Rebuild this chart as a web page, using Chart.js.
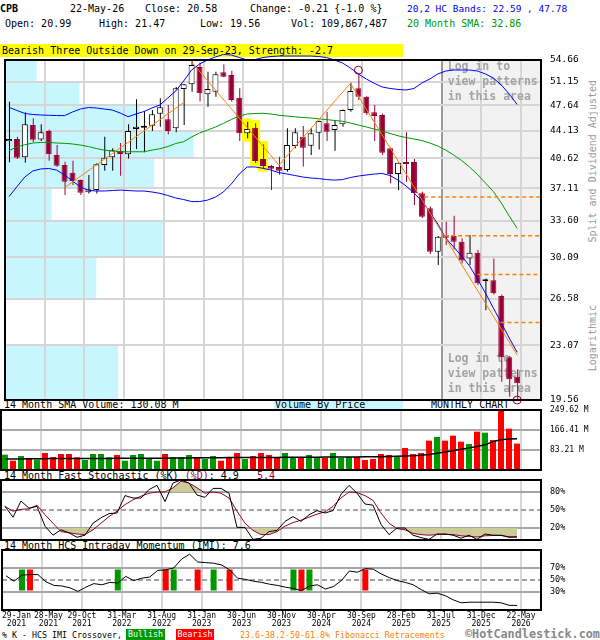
<!DOCTYPE html>
<html>
<head>
<meta charset="utf-8">
<script src="https://cdn.jsdelivr.net/npm/chart.js@4.4.0/dist/chart.umd.min.js"></script>
<style>
  body { margin: 0; background: #fff; }
  #wrap { position: relative; width: 600px; height: 640px; overflow: hidden;
          font-family: "DejaVu Sans Mono", monospace; font-size: 10px; color: #000; }
  canvas { position: absolute; left: 0; top: 0; }
  .t { position: absolute; white-space: pre; line-height: 12px; }
  .s { font-size: 8.3px; line-height: 10px; }
  .vert { writing-mode: vertical-rl; transform: rotate(180deg); color: #999; }
</style>
</head>
<body>
<div id="wrap">
  <div class="t" style="left:0;top:3px;font-weight:bold">CPB</div>
  <div class="t" style="left:70px;top:3px">22-May-26</div>
  <div class="t" style="left:145px;top:3px">Close: 20.58</div>
  <div class="t" style="left:250px;top:3px">Change: -0.21 {-1.0 %}</div>
  <div class="t" style="left:407px;top:3px;color:#0000ee;font-size:9.5px">20,2 HC Bands: 22.59 , 47.78</div>
  <div class="t" style="left:5px;top:18px">Open: 20.99</div>
  <div class="t" style="left:99px;top:18px">High: 21.47</div>
  <div class="t" style="left:200px;top:18px">Low: 19.56</div>
  <div class="t" style="left:291px;top:18px">Vol: 109,867,487</div>
  <div class="t" style="left:407px;top:18px;color:#009900">20 Month SMA: 32.86</div>
  <div class="t" style="left:0;top:44px;width:403px;height:13px;background:#ffff00;padding-left:2px;box-sizing:border-box;line-height:13px">Bearish Three Outside Down on 29-Sep-23, Strength: -2.7</div>

  <div class="t vert" style="left:587px;top:80px">Split and Dividend Adjusted</div>
  <div class="t vert" style="left:587px;top:305px">Logarithmic</div>

  <div class="t" style="left:4px;top:399px">14 Month SMA Volume: 130.08 M</div>
  <div class="t" style="left:274px;top:399px;width:129px;height:11px;background:#c8f6ff;line-height:11px;padding-left:1px;box-sizing:border-box">Volume By Price</div>
  <div class="t" style="left:431px;top:399px">MONTHLY CHART</div>
  <div class="t" style="left:4px;top:470px">14 Month Fast Stochastic (%K) <span style="color:#990033">(%D)</span>: 4.9   <span style="color:#990033">5.4</span></div>
  <div class="t" style="left:4px;top:540px">14 Month HCS Intraday Momentum (IMI): 7.6</div>

  <div class="t s" style="left:2px;top:630px">% K - HCS IMI Crossover,</div>
  <div class="t s" style="left:126px;top:629px;width:39px;height:11px;background:#009900;color:#fff;text-align:center;line-height:11px">Bullish</div>
  <div class="t s" style="left:176px;top:629px;width:38px;height:11px;background:#ff0000;color:#fff;text-align:center;line-height:11px">Bearish</div>
  <div class="t s" style="left:240px;top:630px;color:#ff8000">23.6-38.2-50-61.8% Fibonacci Retracements</div>
  <div class="t" style="left:465px;top:628px;color:#888;font-weight:bold;font-size:11.8px;line-height:13px">©HotCandlestick.com</div>

  <canvas id="cMain" width="600" height="640"></canvas>
  <canvas id="cVol" width="600" height="640"></canvas>
  <canvas id="cSto" width="600" height="640"></canvas>
  <canvas id="cImi" width="600" height="640"></canvas>
</div>
<script>
// monthly candles, Jan 2021 .. May 2026 (index 0..64)
const open = [42.76,43.05,40.73,44.91,43.00,44.10,41.02,39.79,38.88,38.03,
  36.64,36.90,39.79,40.73,41.51,41.10,44.37,44.55,44.82,46.47,
  45.69,44.47,50.07,50.79,53.51,49.28,49.66,52.67,52.24,48.77,
  43.80,44.55,40.52,39.68,39.56,39.19,42.15,43.35,42.19,43.88,
  45.14,44.23,45.01,46.99,50.18,48.92,46.67,46.30,41.86,38.73,
  40.08,40.16,36.53,34.92,30.62,32.21,32.11,31.56,30.01,30.53,
  28.00,28.10,26.78,22.25,20.99];
const high = [48.19,43.35,46.67,45.83,45.01,44.30,42.27,40.20,40.30,38.10,
  38.61,40.00,43.35,41.86,42.53,45.01,48.54,46.85,46.99,48.69,
  47.71,50.38,50.85,54.50,54.20,52.76,52.76,53.96,52.90,50.18,
  45.36,45.14,42.36,39.80,40.81,44.47,44.47,44.77,44.47,45.50,
  46.75,45.59,47.05,51.04,52.51,49.00,47.71,46.50,41.95,40.10,
  43.93,40.52,36.70,35.10,32.10,33.53,34.14,31.90,32.21,30.77,
  28.25,30.00,26.90,22.34,21.47];
const low = [40.12,40.52,40.07,42.62,42.80,40.32,39.60,36.35,37.47,36.35,
  36.51,36.50,39.12,39.12,38.53,40.60,41.77,41.37,44.10,44.67,
  43.66,43.93,44.91,49.66,48.20,47.46,48.92,51.90,48.19,42.80,
  43.14,40.05,39.40,36.90,38.64,38.99,41.86,39.63,41.02,41.72,
  42.80,41.55,44.67,46.75,48.43,46.30,42.80,41.02,37.66,36.89,
  37.84,35.26,33.90,30.40,29.41,31.25,30.85,29.55,29.41,27.69,
  25.66,26.90,20.67,19.76,19.56];
const close = [43.05,40.68,45.01,42.96,43.93,41.10,39.71,37.84,37.92,36.60,
  36.98,39.88,40.68,41.60,41.13,44.10,44.67,44.60,46.38,47.38,
  44.10,50.18,50.79,53.84,49.43,50.07,52.35,51.97,48.43,43.80,
  44.37,40.28,39.68,39.36,39.12,42.27,43.93,41.93,43.80,45.46,
  44.01,44.91,46.99,49.77,48.92,46.53,46.15,41.30,38.73,40.08,
  39.92,36.53,34.04,30.62,32.04,31.94,31.56,29.81,30.53,27.83,
  28.02,27.00,22.25,20.83,20.58];

const upperBand = [47.38,46.93,46.50,46.36,46.29,46.25,46.21,46.20,46.71,47.13,
  47.35,47.28,47.13,46.99,46.57,46.05,46.43,46.78,47.28,47.71,
  48.73,49.77,51.30,53.03,54.00,54.66,55.16,55.58,55.49,55.07,
  54.66,54.74,55.07,55.24,55.32,55.32,55.32,55.32,55.32,55.24,
  55.07,54.66,54.17,53.35,52.40,51.61,50.94,50.38,50.15,50.00,
  49.92,50.15,50.99,51.61,52.40,52.87,53.03,53.03,53.03,52.87,
  52.40,51.76,50.68,49.32,47.78];
const lowerBand = [36.16,37.27,38.38,39.08,39.32,39.38,39.19,38.61,37.92,37.24,
  36.86,36.79,36.79,36.84,36.89,36.84,36.79,36.79,36.68,36.53,
  36.29,36.02,35.85,35.63,35.63,35.79,36.12,36.68,37.58,38.73,
  39.56,39.56,39.40,39.19,38.89,38.73,38.55,38.38,38.26,38.20,
  38.08,38.02,38.08,38.32,38.49,38.61,38.73,38.79,38.55,38.02,
  37.36,36.57,35.68,34.53,33.29,31.92,31.06,30.23,29.33,28.19,
  27.03,25.83,24.69,23.59,22.59];
const sma20 = [41.56,42.03,42.31,42.53,42.60,42.61,42.53,42.49,42.41,42.27,
  42.08,41.83,41.63,41.51,41.42,41.42,41.42,41.42,41.63,41.80,
  42.08,42.47,42.70,43.31,43.84,44.23,44.64,45.12,45.66,46.15,
  46.43,46.50,46.53,46.43,46.25,46.15,46.04,45.94,45.87,45.76,
  45.65,45.53,45.42,45.18,44.91,44.64,44.37,44.10,43.77,43.47,
  43.24,43.05,42.85,42.53,42.15,41.63,41.02,40.34,39.56,38.67,
  37.69,36.73,35.48,34.11,32.86];

// trend lines (month index, price)
const trendAMonths = [7, 22];
const trendAPrices = [37.16, 48.04];
const trendBMonths = [23, 34, 43, 64];
const trendBPrices = [54.35, 39.79, 50.94, 22.41];
const fibLevels = [36.14, 32.14, 28.59, 24.73];
const fibFrom = [52.3, 54.8, 59.0, 61.9];
const pivotMonths = [44, 64];
const pivotPrices = [53.0, 19.56];
const patternMonths = [30, 31, 32];
const loginFrom = 54.5;

// volume by price, bands between price ticks (bottom to top), relative size
const priceTicks = [19.56, 23.07, 26.58, 30.09, 33.60, 37.11, 40.62, 44.13, 47.64, 51.15, 54.66];
const vbpVolume = [114, 0, 92, 159, 47, 150, 190, 136, 75, 32];

// volume, millions
const volume = [63.7,38.7,58.2,47.0,42.9,70.7,54.0,66.6,66.6,52.7,
  41.6,66.6,66.6,52.7,62.4,38.7,62.4,66.6,49.9,38.7,
  66.6,52.7,52.7,62.4,52.7,45.8,58.2,38.7,52.7,70.7,
  45.8,58.2,70.7,62.4,49.9,70.7,54.0,54.0,62.4,54.0,
  49.9,70.7,49.9,54.0,54.0,41.6,45.8,66.6,62.4,55.4,
  91.5,66.6,70.7,122.0,137.3,122.0,142.8,117.9,108.2,159.5,
  155.3,124.8,248.0,171.9,109.9];
const volSma = [45.8,46,46,46.5,47,47,47.5,48,48,48,
  48,48,48,48,48.5,48.5,48.5,48.5,49,49,
  49,49.5,50,50,50.5,51,51,51,51.5,52,
  52,52,52,52.5,52.5,53,53,53,53.5,53.5,
  54,54,54,54.5,54.5,55,55,55,56,57,
  58,59,61,64,70,75,80,86,92,98,
  105,118,126,129,130.08];
const volTicks = [83.21, 166.41, 249.62];

const stochK = [56,38,65,53,56,23,8,17,12,4.5,
  8,28,37,44,45,74,70,70,84,91,
  64,95,100,95,75,71,86,86,78,21,
  21,1,3,14,16,31,39,31,42,49,
  45,49,76,91,78,60,58,26,9,20,
  20,8,4,1,10,10,8,3,8,1,
  10,8,8,4.5,4.9];
const stochD = [56,48,51,52,58,42,28,14,12,10,
  9,17,28,39,48,59,67,73,78,80,
  80,87,98,95,87,78,80,78,70,48,
  28,16,9,9,14,23,29,33,38,43,
  47,56,70,80,79,74,66,45,28,19,
  17,11,9,8,9,9.5,9,7,6,5,
  7,7.5,7.5,5.5,5.4];
const stochTicks = [20, 50, 80];

const imi = [57,48,58,59,59,47,41,40,37,31,
  38,44,42,46,45,56,49,53,55,66,
  67,70,85,93,80,79,78,75,67,53,
  51,48,46,43,41,38,36,32,40,42,
  35,39,49,65,63,69,68,60,54,49,
  46,42,34,27,28,24,17,12,13,13,
  13,13,12,7.8,7.6];
const imiTicks = [30, 50, 70];
const bullishMonths = [2, 14, 21, 26, 36, 38];
const bearishMonths = [3, 20, 24, 28, 37, 45];
const signalRange = [32.5, 67.5];

const tickMonths = [0, 4, 9, 14, 19, 24, 29, 34, 39, 44, 49, 54, 59, 64];
const tickDates = ['29-Jan','28-May','29-Oct','31-Mar','31-Aug','31-Jan','30-Jun','30-Nov','30-Apr','30-Sep','28-Feb','31-Jul','31-Dec','22-May'];
const tickYears = ['2021','2021','2021','2022','2022','2023','2023','2023','2024','2024','2025','2025','2025','2026'];

// ---- styling
const MAROON = '#990033', ORANGE = '#ff8000', TAN = '#cccc99';
const MONO = '"DejaVu Sans Mono", monospace';
Chart.defaults.font.family = MONO;
Chart.defaults.animation = false;
Chart.defaults.events = [];
Chart.defaults.plugins.legend.display = false;
Chart.defaults.plugins.tooltip.enabled = false;

const X_MIN = -0.5, X_MAX = 67;
const idx = open.map((_, i) => i);
const isUp = i => close[i] >= open[i];
const isDoji = i => Math.abs(close[i] - open[i]) < 0.1;
const pts = (xs, ys) => xs.map((x, k) => ({ x: x, y: ys[k] }));
const series = arr => arr.map((v, i) => ({ x: i, y: v }));

// date labels sit on month ends, nudged right where they would overlap (one month = 8px)
const labelW = 29 / 8, labelGap = 3 / 8;
const labelPos = [];
tickMonths.forEach((m, k) => {
  const floor = k === 0 ? X_MIN + labelW / 2 : labelPos[k - 1] + labelW + labelGap;
  labelPos.push(Math.max(m + 0.5, floor));
});

function xAxis(darkLogin) {
  return {
    type: 'linear', min: X_MIN, max: X_MAX, offset: false,
    afterBuildTicks: s => { s.ticks = tickMonths.map(m => ({ value: m + 0.5 })); },
    afterFit: s => { s.height = 0; },
    grid: { offset: false, drawTicks: false, lineWidth: 2,
      color: c => c.index === 0 ? 'rgba(0,0,0,0)' :
        (darkLogin && c.tick && c.tick.value === loginFrom ? '#9a9a9a' : '#d6d6d6') },
    border: { display: false },
    ticks: { display: false }
  };
}
// same month axis moved by half a pixel, so 1px wicks land on whole pixels
const xWick = {
  type: 'linear', min: X_MIN - 1 / 16, max: X_MAX - 1 / 16, offset: false,
  afterFit: s => { s.height = 0; },
  grid: { display: false, drawTicks: false }, border: { display: false },
  ticks: { display: false }
};
const xLabels = {
  type: 'linear', position: 'bottom', min: X_MIN, max: X_MAX, offset: false,
  afterBuildTicks: s => { s.ticks = labelPos.map(v => ({ value: v })); },
  afterFit: s => { s.height = 20; },
  grid: { display: false, drawTicks: false }, border: { display: false },
  ticks: { autoSkip: false, maxRotation: 0, padding: 2, color: '#000',
    font: { size: 8, lineHeight: 1 }, callback: (v, k) => [tickDates[k], tickYears[k]] }
};
function hiddenLinear(min, max) { return { type: 'linear', display: false, min: min, max: max }; }
function rightAxis(opts) {
  return Object.assign({
    position: 'right', weight: 1,
    afterFit: s => { s.width = 59; },
    border: { display: false },
    grid: { drawTicks: false, lineWidth: 2, color: '#aaaaaa' },
    ticks: { padding: 9, color: '#000', autoSkip: false, font: { size: 8.5 } }
  }, opts);
}

const frame = {
  id: 'frame',
  afterDraw(c) {
    const a = c.chartArea, ctx = c.ctx;
    ctx.save();
    ctx.strokeStyle = '#000'; ctx.lineWidth = 2;
    ctx.strokeRect(a.left, a.top, a.right - a.left, a.bottom - a.top);
    ctx.restore();
  }
};

const mainDecor = {
  id: 'mainDecor',
  beforeDraw(c) {
    const { ctx, chartArea: a, scales } = c;
    ctx.save();
    ctx.fillStyle = '#c8f6ff';
    vbpVolume.forEach((v, k) => {
      const yTop = scales.y.getPixelForValue(priceTicks[k + 1]);
      const yBot = scales.y.getPixelForValue(priceTicks[k]);
      ctx.fillRect(a.left, yTop, scales.xv.getPixelForValue(v) - a.left, yBot - yTop);
    });
    const gx = scales.x.getPixelForValue(loginFrom);
    ctx.fillStyle = '#f2f2f2';
    ctx.fillRect(gx, a.top, a.right - gx, a.bottom - a.top);
    ctx.restore();
  },
  beforeDatasetsDraw(c) {
    const { ctx, chartArea: a, scales } = c;
    const gx = scales.x.getPixelForValue(loginFrom) + 6;
    const lines = ['Log in to', 'view patterns', 'in this area'];
    ctx.save();
    ctx.font = 'bold 11.5px ' + MONO;
    ctx.fillStyle = '#a3a3a3';
    ctx.textBaseline = 'middle';
    lines.forEach((t, k) => {
      ctx.fillText(t, gx, a.top + 7 + k * 15);
      ctx.fillText(t, gx, a.bottom - 41 + k * 15);
    });
    ctx.restore();
  }
};

const barBase = { type: 'bar', grouped: false, inflateAmount: 0, borderSkipped: false, xAxisID: 'x', yAxisID: 'y' };
const lineBase = { type: 'line', pointRadius: 0, tension: 0, borderWidth: 1, fill: false, xAxisID: 'x', yAxisID: 'y' };

// ---- main price chart
new Chart(document.getElementById('cMain'), {
  type: 'line',
  data: { datasets: [
    Object.assign({}, barBase, { order: 20, barThickness: 10, backgroundColor: '#ffff00',
      data: patternMonths.map(i => ({ x: i, y: [low[i] * 0.99, high[i] * 1.01] })) }),
    Object.assign({}, barBase, { order: 19, barThickness: 1, xAxisID: 'xw',
      backgroundColor: idx.map(i => isUp(i) ? '#000' : MAROON),
      data: idx.map(i => ({ x: i, y: [low[i], high[i]] })) }),
    Object.assign({}, barBase, { order: 18, barThickness: 6, minBarLength: 2, borderWidth: 1,
      backgroundColor: idx.map(i => isDoji(i) ? '#000' : isUp(i) ? '#fff' : MAROON),
      borderColor: idx.map(i => isUp(i) ? '#000' : MAROON),
      data: idx.map(i => ({ x: i, y: [open[i], close[i]] })) }),
    Object.assign({}, lineBase, { order: 10, borderColor: '#0000ff', clip: false, data: series(upperBand) }),
    Object.assign({}, lineBase, { order: 10, borderColor: '#0000ff', data: series(lowerBand) }),
    Object.assign({}, lineBase, { order: 10, borderColor: '#009900', data: series(sma20) }),
    Object.assign({}, lineBase, { order: 9, borderColor: ORANGE, data: pts(trendAMonths, trendAPrices) }),
    Object.assign({}, lineBase, { order: 9, borderColor: ORANGE, data: pts(trendBMonths, trendBPrices) }),
    ...fibLevels.map((lv, k) => Object.assign({}, lineBase, { order: 8, borderColor: ORANGE,
      borderWidth: 1.5, borderDash: [4, 3], data: [{ x: fibFrom[k], y: lv }, { x: X_MAX, y: lv }] })),
    { type: 'line', order: 1, xAxisID: 'x', yAxisID: 'y', showLine: false, clip: false,
      pointRadius: 4, pointStyle: 'circle', pointBorderColor: MAROON,
      pointBackgroundColor: 'rgba(0,0,0,0)', pointBorderWidth: 1, data: pts(pivotMonths, pivotPrices) }
  ] },
  options: {
    responsive: false,
    layout: { padding: { left: 1, top: 60, right: 0, bottom: 240 } },
    scales: {
      x: xAxis(true),
      xw: xWick,
      xv: hiddenLinear(0, 540),
      y: rightAxis({
        type: 'logarithmic', min: 19.56, max: 54.66,
        afterBuildTicks: s => { s.ticks = priceTicks.map(v => ({ value: v })); },
        grid: { drawTicks: false, lineWidth: 2, color: '#d6d6d6' },
        ticks: { padding: 9, color: '#000', autoSkip: false, font: { size: 9.5 }, callback: v => v.toFixed(2) }
      }),
      yf: {
        type: 'logarithmic', position: 'right', weight: 0, min: 19.56, max: 54.66,
        afterBuildTicks: s => { s.ticks = fibLevels.map(v => ({ value: v })); },
        afterFit: s => { s.width = 0; },
        grid: { display: false }, border: { display: false },
        ticks: { padding: 4, color: ORANGE, autoSkip: false, font: { size: 8 }, callback: v => v.toFixed(2) }
      }
    }
  },
  plugins: [mainDecor, frame]
});

// ---- volume
new Chart(document.getElementById('cVol'), {
  type: 'line',
  data: { datasets: [
    Object.assign({}, barBase, { order: 5, barThickness: 6,
      backgroundColor: idx.map(i => isUp(i) ? '#009900' : '#ff0000'), data: series(volume) }),
    Object.assign({}, lineBase, { order: 1, borderColor: '#000', borderWidth: 1.5, data: series(volSma) })
  ] },
  options: {
    responsive: false,
    layout: { padding: { left: 1, top: 410, right: 0, bottom: 170 } },
    scales: {
      x: xAxis(false),
      y: rightAxis({ type: 'linear', min: 0, max: 249.62,
        afterBuildTicks: s => { s.ticks = volTicks.map(v => ({ value: v })); },
        ticks: { padding: 9, color: '#000', autoSkip: false, font: { size: 8 }, callback: v => v.toFixed(2) + ' M' } })
    }
  },
  plugins: [frame]
});

function pctAxis(ticks) {
  return rightAxis({ type: 'linear', min: 0, max: 100,
    afterBuildTicks: s => { s.ticks = ticks.map(v => ({ value: v })); },
    grid: { drawTicks: false, lineWidth: 2, color: '#a5a5a5' },
    border: { display: false, dash: c => (c.tick && c.tick.value === 50) ? [5, 3] : [] },
    ticks: { padding: 9, color: '#000', autoSkip: false, font: { size: 8.5 }, callback: v => v + '%' } });
}

// ---- stochastic
new Chart(document.getElementById('cSto'), {
  type: 'line',
  data: { datasets: [
    Object.assign({}, lineBase, { order: 6, borderWidth: 0, borderColor: 'rgba(0,0,0,0)',
      fill: { target: { value: 80 }, above: TAN, below: 'rgba(0,0,0,0)' }, data: series(stochD) }),
    Object.assign({}, lineBase, { order: 2, borderColor: MAROON,
      fill: { target: { value: 20 }, above: 'rgba(0,0,0,0)', below: TAN }, data: series(stochD) }),
    Object.assign({}, lineBase, { order: 1, borderColor: '#000', data: series(stochK) })
  ] },
  options: {
    responsive: false,
    layout: { padding: { left: 1, top: 480, right: 0, bottom: 100 } },
    scales: { x: xAxis(false), y: pctAxis(stochTicks) }
  },
  plugins: [frame]
});

// ---- IMI
new Chart(document.getElementById('cImi'), {
  type: 'line',
  data: { datasets: [
    Object.assign({}, barBase, { order: 5, barThickness: 6, backgroundColor: '#009900',
      data: bullishMonths.map(i => ({ x: i, y: signalRange })) }),
    Object.assign({}, barBase, { order: 5, barThickness: 6, backgroundColor: '#ff0000',
      data: bearishMonths.map(i => ({ x: i, y: signalRange })) }),
    Object.assign({}, lineBase, { order: 1, borderColor: '#000', data: series(imi) })
  ] },
  options: {
    responsive: false,
    layout: { padding: { left: 1, top: 550, right: 0, bottom: 10 } },
    scales: { x: xAxis(false), xl: xLabels, y: pctAxis(imiTicks) }
  },
  plugins: [frame]
});
</script>
</body>
</html>
